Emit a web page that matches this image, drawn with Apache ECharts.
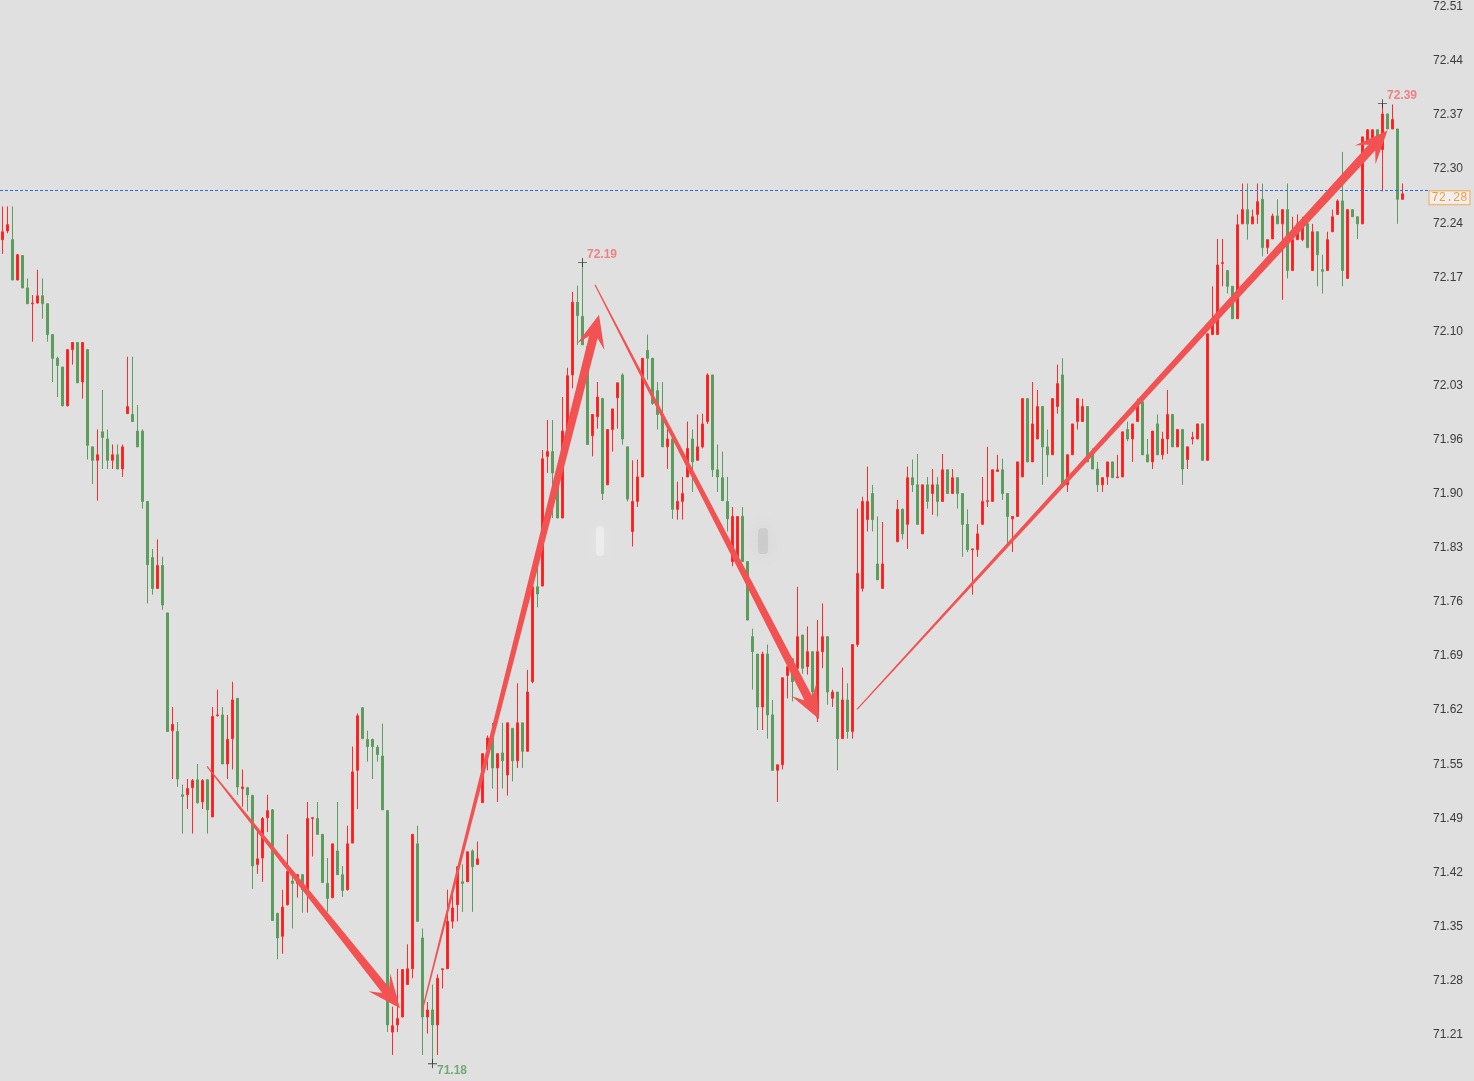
<!DOCTYPE html>
<html>
<head>
<meta charset="utf-8">
<title>K线</title>
<script src="https://cdn.jsdelivr.net/npm/echarts@6/dist/echarts.min.js"></script>
<style>
  html, body { margin: 0; padding: 0; background: #e0e0e0; }
  #main { width: 1474px; height: 1081px; }
</style>
</head>
<body>
<div id="main"></div>
<script>
// candle values (index 0 = leftmost candle)
var openPrices = [
  72.218, 72.229, 72.218, 72.167, 72.198, 72.157, 72.137, 72.138, 72.147, 72.137,
  72.098, 72.068, 72.057, 72.008, 72.079, 72.088, 72.038, 72.079, 71.956, 71.939,
  71.975, 71.966, 71.939, 71.946, 71.928, 71.998, 71.997, 71.976, 71.976, 71.887,
  71.816, 71.777, 71.806, 71.746, 71.597, 71.596, 71.516, 71.516, 71.525, 71.535,
  71.507, 71.535, 71.488, 71.616, 71.617, 71.555, 71.587, 71.638, 71.524, 71.525,
  71.515, 71.428, 71.436, 71.487, 71.497, 71.366, 71.337, 71.377, 71.407, 71.404,
  71.415, 71.396, 71.486, 71.486, 71.466, 71.404, 71.386, 71.445, 71.415, 71.396,
  71.455, 71.547, 71.626, 71.586, 71.586, 71.576, 71.565, 71.496, 71.216, 71.225,
  71.235, 71.276, 71.296, 71.454, 71.335, 71.235, 71.244, 71.225, 71.295, 71.296,
  71.356, 71.377, 71.406, 71.406, 71.445, 71.428, 71.506, 71.573, 71.588, 71.550,
  71.569, 71.541, 71.600, 71.559, 71.607, 71.571, 71.659, 71.779, 71.780, 71.944,
  71.950, 71.923, 71.866, 71.979, 72.047, 72.139, 72.121, 72.083, 71.970, 71.994,
  72.017, 71.908, 71.978, 72.018, 72.047, 71.956, 71.849, 71.887, 71.918, 72.078,
  72.068, 72.027, 71.997, 71.956, 71.966, 71.877, 71.887, 71.918, 71.966, 71.939,
  71.956, 71.988, 72.047, 71.927, 71.917, 71.887, 71.811, 71.811, 71.868, 71.811,
  71.716, 71.694, 71.627, 71.694, 71.617, 71.547, 71.554, 71.667, 71.688, 71.676,
  71.718, 71.678, 71.697, 71.614, 71.697, 71.716, 71.638, 71.646, 71.587, 71.636,
  71.596, 71.706, 71.777, 71.864, 71.897, 71.808, 71.777, null, null, 71.836,
  71.877, 71.858, 71.917, 71.908, 71.846, 71.908, 71.897, 71.908, 71.887, 71.927,
  71.897, 71.917, 71.897, 71.858, 71.826, 71.826, 71.858, 71.887, 71.887, 71.925,
  71.927, 71.897, 71.865, 71.868, 71.918, 72.017, 71.937, 71.966, 72.007, 71.956,
  71.946, 72.007, 72.047, 71.908, 71.946, 71.988, 71.988, 72.007, 71.947, 71.928,
  71.908, 71.918, 71.937, 71.917, 71.918, 71.978, 71.966, 71.988, 72.013, 71.946,
  71.937, 71.985, 71.946, 71.966, 71.997, 71.956, 71.978, 71.940, 71.966, 71.966,
  71.985, 71.939, 72.098, 72.098, 72.188, 72.179, 72.159, 72.118, 72.238, 72.256,
  72.238, 72.250, 72.269, 72.208, 72.219, 72.248, 72.238, 72.256, 72.179, 72.218,
  72.218, 72.238, 72.179, 72.228, 72.180, 72.179, 72.228, 72.250, 72.267, 72.169,
  72.256, 72.247, 72.238, 72.339, 72.346, 72.357, 72.332, 72.377, 72.358, 72.358,
  72.269
];
var closePrices = [
  72.228, 72.237, 72.167, 72.199, 72.157, 72.137, 72.138, 72.147, 72.137, 72.098,
  72.068, 72.059, 72.008, 72.079, 72.088, 72.037, 72.088, 71.958, 71.939, 71.946,
  71.968, 71.939, 71.946, 71.928, 71.956, 72.007, 71.988, 71.956, 71.887, 71.807,
  71.777, 71.806, 71.756, 71.596, 71.605, 71.536, 71.514, 71.524, 71.534, 71.506,
  71.534, 71.497, 71.615, 71.617, 71.555, 71.586, 71.636, 71.526, 71.526, 71.516,
  71.426, 71.435, 71.486, 71.496, 71.357, 71.335, 71.374, 71.419, 71.404, 71.415,
  71.396, 71.486, 71.487, 71.466, 71.405, 71.385, 71.454, 71.415, 71.395, 71.454,
  71.545, 71.616, 71.587, 71.577, 71.577, 71.567, 71.497, 71.225, 71.224, 71.233,
  71.295, 71.296, 71.466, 71.356, 71.235, 71.244, 71.225, 71.284, 71.296, 71.356,
  71.373, 71.425, 71.404, 71.444, 71.425, 71.435, 71.568, 71.588, 71.550, 71.568,
  71.559, 71.607, 71.559, 71.607, 71.571, 71.646, 71.779, 71.770, 71.941, 71.950,
  71.923, 71.866, 71.976, 72.046, 72.139, 72.122, 72.085, 71.959, 71.997, 72.019,
  71.897, 71.978, 72.004, 72.037, 71.966, 71.890, 71.887, 71.918, 72.068, 72.068,
  72.011, 71.997, 71.956, 71.966, 71.877, 71.887, 71.897, 71.954, 71.937, 71.956,
  71.985, 72.047, 71.927, 71.918, 71.888, 71.865, 71.868, 71.868, 71.811, 71.737,
  71.697, 71.627, 71.694, 71.617, 71.547, 71.554, 71.664, 71.678, 71.659, 71.716,
  71.676, 71.697, 71.646, 71.697, 71.716, 71.646, 71.646, 71.587, 71.636, 71.596,
  71.706, 71.796, 71.887, 71.887, 71.864, 71.788, 71.808, null, null, 71.877,
  71.846, 71.917, 71.908, 71.858, 71.908, 71.887, 71.908, 71.887, 71.927, 71.897,
  71.917, 71.897, 71.858, 71.826, 71.827, 71.846, 71.887, 71.888, 71.927, 71.927,
  71.897, 71.868, 71.868, 71.937, 72.017, 71.937, 71.985, 72.007, 71.956, 71.946,
  72.017, 72.036, 71.908, 71.946, 71.985, 72.017, 72.007, 71.937, 71.928, 71.908,
  71.917, 71.937, 71.917, 71.918, 71.975, 71.966, 71.985, 72.009, 71.946, 71.937,
  71.976, 71.946, 71.966, 71.997, 71.956, 71.978, 71.928, 71.956, 71.968, 71.985,
  71.939, 72.099, 72.111, 72.186, 72.189, 72.159, 72.118, 72.237, 72.256, 72.238,
  72.247, 72.266, 72.208, 72.218, 72.248, 72.238, 72.256, 72.179, 72.218, 72.238,
  72.238, 72.208, 72.228, 72.199, 72.178, 72.218, 72.247, 72.267, 72.179, 72.256,
  72.247, 72.238, 72.348, 72.357, 72.357, 72.346, 72.377, 72.358, 72.370, 72.269,
  72.276
];
var lowPrices = [
  72.200, 72.226, 72.167, 72.167, 72.157, 72.137, 72.089, 72.137, 72.118, 72.089,
  72.038, 72.019, 72.007, 72.007, 72.060, 72.037, 72.017, 71.940, 71.909, 71.888,
  71.928, 71.928, 71.928, 71.928, 71.918, 71.998, 71.988, 71.956, 71.878, 71.758,
  71.769, 71.777, 71.750, 71.596, 71.536, 71.526, 71.467, 71.498, 71.467, 71.505,
  71.498, 71.467, 71.488, 71.615, 71.555, 71.536, 71.548, 71.516, 71.501, 71.495,
  71.397, 71.416, 71.406, 71.469, 71.357, 71.308, 71.315, 71.376, 71.347, 71.386,
  71.367, 71.367, 71.438, 71.466, 71.405, 71.368, 71.385, 71.415, 71.387, 71.395,
  71.455, 71.498, 71.587, 71.558, 71.536, 71.558, 71.497, 71.216, 71.187, 71.216,
  71.235, 71.276, 71.284, 71.356, 71.187, 71.214, 71.176, 71.187, 71.271, 71.296,
  71.347, 71.356, 71.368, 71.406, 71.368, 71.428, 71.506, 71.547, 71.524, 71.507,
  71.524, 71.515, 71.533, 71.550, 71.550, 71.571, 71.657, 71.753, 71.780, 71.923,
  71.866, 71.866, 71.866, 71.976, 72.030, 72.085, 72.085, 71.959, 71.944, 71.979,
  71.889, 71.908, 71.950, 71.979, 71.959, 71.887, 71.830, 71.880, 71.918, 72.041,
  72.009, 71.978, 71.956, 71.928, 71.865, 71.864, 71.864, 71.918, 71.899, 71.939,
  71.954, 71.985, 71.918, 71.899, 71.888, 71.849, 71.805, 71.811, 71.811, 71.737,
  71.649, 71.598, 71.598, 71.587, 71.547, 71.507, 71.548, 71.638, 71.634, 71.672,
  71.669, 71.668, 71.640, 71.608, 71.676, 71.630, 71.627, 71.547, 71.587, 71.587,
  71.587, 71.703, 71.773, 71.849, 71.849, 71.788, 71.777, null, null, 71.836,
  71.839, 71.827, 71.899, 71.858, 71.846, 71.878, 71.870, 71.868, 71.887, 71.897,
  71.897, 71.878, 71.817, 71.823, 71.769, 71.817, 71.858, 71.880, 71.887, 71.925,
  71.889, 71.832, 71.823, 71.868, 71.918, 71.937, 71.937, 71.966, 71.908, 71.918,
  71.946, 71.998, 71.908, 71.899, 71.946, 71.978, 71.988, 71.937, 71.928, 71.899,
  71.899, 71.908, 71.917, 71.917, 71.918, 71.963, 71.937, 71.988, 71.946, 71.937,
  71.928, 71.946, 71.940, 71.947, 71.956, 71.956, 71.908, 71.928, 71.959, 71.966,
  71.939, 71.939, 72.098, 72.098, 72.159, 72.150, 72.118, 72.118, 72.238, 72.218,
  72.238, 72.238, 72.197, 72.200, 72.219, 72.238, 72.142, 72.169, 72.179, 72.218,
  72.216, 72.208, 72.179, 72.159, 72.150, 72.179, 72.228, 72.250, 72.159, 72.169,
  72.247, 72.219, 72.238, 72.339, 72.346, 72.346, 72.279, 72.358, 72.358, 72.238,
  72.269
];
var highPrices = [
  72.260, 72.260, 72.260, 72.200, 72.198, 72.169, 72.148, 72.180, 72.169, 72.137,
  72.098, 72.070, 72.057, 72.079, 72.088, 72.088, 72.088, 72.079, 71.956, 71.978,
  72.028, 71.978, 71.959, 71.959, 71.959, 72.070, 72.070, 72.009, 71.978, 71.887,
  71.827, 71.839, 71.817, 71.746, 71.627, 71.608, 71.529, 71.536, 71.536, 71.555,
  71.536, 71.536, 71.627, 71.649, 71.627, 71.617, 71.659, 71.638, 71.548, 71.526,
  71.516, 71.469, 71.488, 71.516, 71.498, 71.367, 71.396, 71.466, 71.416, 71.416,
  71.416, 71.507, 71.488, 71.507, 71.466, 71.436, 71.454, 71.507, 71.426, 71.477,
  71.577, 71.619, 71.627, 71.597, 71.587, 71.579, 71.606, 71.497, 71.248, 71.296,
  71.295, 71.327, 71.466, 71.477, 71.347, 71.254, 71.276, 71.289, 71.296, 71.396,
  71.393, 71.425, 71.428, 71.444, 71.447, 71.457, 71.568, 71.591, 71.607, 71.568,
  71.607, 71.607, 71.600, 71.657, 71.607, 71.674, 71.779, 71.817, 71.952, 71.990,
  71.990, 71.923, 72.019, 72.056, 72.152, 72.160, 72.189, 72.083, 71.997, 72.038,
  72.018, 71.978, 72.004, 72.037, 72.049, 71.956, 71.939, 71.940, 72.068, 72.098,
  72.068, 72.038, 72.038, 71.979, 71.966, 71.912, 71.918, 71.988, 71.978, 71.997,
  71.998, 72.049, 72.047, 71.959, 71.950, 71.918, 71.880, 71.868, 71.880, 71.811,
  71.726, 71.694, 71.697, 71.706, 71.636, 71.554, 71.664, 71.688, 71.688, 71.779,
  71.718, 71.729, 71.697, 71.737, 71.758, 71.716, 71.649, 71.646, 71.677, 71.657,
  71.706, 71.878, 71.893, 71.931, 71.908, 71.868, 71.861, null, null, 71.889,
  71.878, 71.931, 71.940, 71.947, 71.908, 71.918, 71.928, 71.918, 71.947, 71.927,
  71.928, 71.917, 71.897, 71.877, 71.827, 71.858, 71.918, 71.956, 71.927, 71.946,
  71.941, 71.897, 71.868, 71.937, 72.017, 72.017, 72.038, 72.028, 72.007, 71.978,
  72.017, 72.060, 72.068, 71.946, 71.985, 72.017, 72.017, 72.007, 71.954, 71.937,
  71.917, 71.937, 71.937, 71.946, 71.975, 71.988, 71.985, 72.017, 72.013, 71.966,
  71.976, 71.997, 71.975, 72.028, 71.997, 71.978, 71.978, 71.956, 71.975, 71.985,
  71.985, 72.099, 72.159, 72.219, 72.219, 72.179, 72.159, 72.250, 72.289, 72.289,
  72.256, 72.289, 72.289, 72.218, 72.251, 72.269, 72.256, 72.289, 72.247, 72.250,
  72.247, 72.247, 72.238, 72.228, 72.199, 72.228, 72.256, 72.269, 72.329, 72.256,
  72.256, 72.247, 72.348, 72.358, 72.357, 72.357, 72.390, 72.377, 72.389, 72.358,
  72.289
];

// empty slots on the right side of the plot
var emptySlots = 5;

// price axis tick labels, bottom to top
var tickLabels = ['71.21', '71.28', '71.35', '71.42', '71.49', '71.55', '71.62', '71.69', '71.76', '71.83',
  '71.90', '71.96', '72.03', '72.10', '72.17', '72.24', '72.30', '72.37', '72.44', '72.51'];
var tickLow = 71.2125;
var tickHigh = 72.5125;
var axisMin = 71.1541;
var axisMax = 72.5211;

// last price line
var lastPrice = 72.28;
var lastPriceText = '72.28';

// high / low markers: candle index, price, text
var markIndex = [116, 86, 276];
var markPrice = [72.189, 71.176, 72.390];
var markText = ['72.19', '71.18', '72.39'];

// hand drawn arrows: [start index, start price, end index, end price]
var arrows = [
  [40.9, 71.552, 79.5, 71.246],
  [83.9, 71.242, 119.3, 72.123],
  [118.5, 72.161, 163.3, 71.612],
  [170.9, 71.624, 277.0, 72.356]
];

var total = openPrices.length + emptySlots
var categories = []
for (var i = 0; i < total; i++) categories.push(String(i))

var candleData = openPrices.map(function(o, i) {
  if (o === null) return '-'
  return [o, closePrices[i], lowPrices[i], highPrices[i]]
})

var tickStep = (tickHigh - tickLow) / (tickLabels.length - 1)
var tickValues = tickLabels.map(function(t, i) { return tickLow + i * tickStep })

var markData = markIndex.map(function(k, i) {
  var up = i !== 1
  return {
    value: [k, markPrice[i]],
    label: {
      show: true,
      formatter: markText[i],
      position: 'right',
      distance: 0,
      offset: [0, up ? -8 : 7],
      color: up ? '#f06a6a' : '#5a9a5a',
      fontWeight: 'bold',
      fontSize: 12,
      fontFamily: 'Liberation Sans'
    }
  }
})

function renderArrow(params, api) {
  var p0 = api.coord([api.value(0), api.value(1)])
  var p1 = api.coord([api.value(2), api.value(3)])
  var dx = p1[0] - p0[0], dy = p1[1] - p0[1]
  var len = Math.sqrt(dx * dx + dy * dy)
  var ux = dx / len, uy = dy / len
  var nx = -uy, ny = ux
  var headLen = 33, headHalf = 14, notch = 10
  var w0 = 0.6, w1 = 4.4
  var bx = p1[0] - ux * (headLen - notch), by = p1[1] - uy * (headLen - notch)
  var hx = p1[0] - ux * headLen, hy = p1[1] - uy * headLen
  return {
    type: 'polygon',
    shape: {
      points: [
        [p0[0] + nx * w0, p0[1] + ny * w0],
        [bx + nx * w1, by + ny * w1],
        [hx + nx * headHalf, hy + ny * headHalf],
        [p1[0], p1[1]],
        [hx - nx * headHalf, hy - ny * headHalf],
        [bx - nx * w1, by - ny * w1],
        [p0[0] - nx * w0, p0[1] - ny * w0]
      ]
    },
    style: { fill: '#f25252' }
  }
}

var myChart = echarts.init(document.getElementById('main'))

myChart.setOption({
  animation: false,
  backgroundColor: '#e0e0e0',
  grid: { left: 0, right: 44, top: 0, bottom: 0, containLabel: false, outerBoundsMode: 'none' },
  xAxis: [
    { type: 'category', data: categories, boundaryGap: true, show: false },
    { type: 'value', min: -0.5, max: total - 0.5, show: false }
  ],
  yAxis: {
    type: 'value',
    position: 'right',
    min: axisMin,
    max: axisMax,
    splitLine: { show: false },
    axisLine: { show: false },
    axisTick: { show: false },
    axisLabel: {
      customValues: tickValues,
      margin: 3,
      color: '#3c3c3c',
      fontSize: 12,
      fontFamily: 'Liberation Sans',
      formatter: function(v) {
        return tickLabels[Math.round((v - tickLow) / tickStep)]
      }
    }
  },
  // faint blurred watermark in the middle of the picture
  graphic: [
    {
      type: 'rect',
      silent: true,
      z: 20,
      shape: { x: 596, y: 526, width: 8, height: 30, r: 4 },
      style: { fill: 'rgba(255,255,255,0.35)', shadowBlur: 16, shadowColor: 'rgba(255,255,255,0.8)' }
    },
    {
      type: 'rect',
      silent: true,
      z: 20,
      shape: { x: 758, y: 528, width: 10, height: 26, r: 4 },
      style: { fill: 'rgba(160,160,160,0.25)', shadowBlur: 16, shadowColor: 'rgba(140,140,140,0.6)' }
    }
  ],
  series: [
    {
      type: 'candlestick',
      data: candleData,
      barWidth: 3,
      itemStyle: {
        color: '#ff1a1a',
        color0: '#5c9c5c',
        borderColor: '#ff2a2a',
        borderColor0: '#5c9c5c',
        borderWidth: 1
      },
      markLine: {
        silent: true,
        symbol: 'none',
        label: { show: false },
        emphasis: { disabled: true },
        lineStyle: { type: [3, 2], color: '#2b6de0', width: 1, opacity: 1 },
        data: [{ yAxis: lastPrice, lineStyle: { color: '#2b6de0' } }]
      }
    },
    {
      type: 'custom',
      xAxisIndex: 1,
      renderItem: renderArrow,
      encode: { x: [0, 2], y: [1, 3] },
      data: arrows,
      z: 5
    },
    {
      type: 'scatter',
      xAxisIndex: 1,
      symbol: 'path://M0,4.5h10v1h-10zM4.5,0h1v10h-1z',
      symbolSize: 9,
      itemStyle: { color: '#222' },
      data: markData,
      z: 6
    },
    {
      type: 'scatter',
      xAxisIndex: 1,
      symbolSize: 1,
      itemStyle: { color: 'rgba(0,0,0,0)' },
      clip: false,
      data: [{
        value: [total - 0.5, lastPrice],
        label: {
          show: true,
          formatter: lastPriceText,
          position: [0, 1],
          color: '#f08a10',
          fontSize: 12,
          fontFamily: 'Liberation Mono',
          backgroundColor: '#f4f4f4',
          borderColor: '#f0a040',
          borderWidth: 1,
          padding: [1, 2, 0, 2]
        }
      }],
      z: 6
    }
  ]
})
</script>
</body>
</html>
